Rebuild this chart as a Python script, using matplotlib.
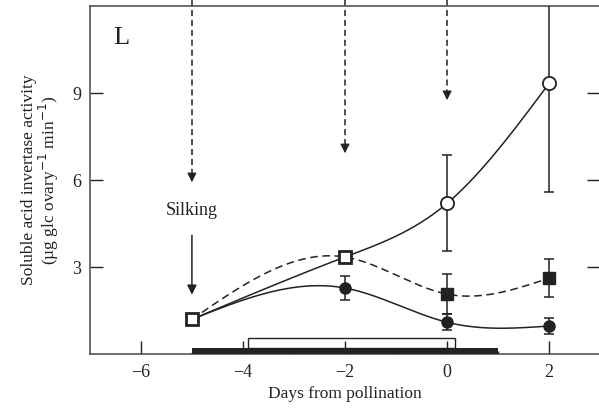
import numpy as np
import matplotlib
matplotlib.use("Agg")
from matplotlib import pyplot as plt

plt.rcParams['font.family'] = ['Liberation Serif', 'DejaVu Serif']

# datos
dias = [-5, -2, 0, 2]
abiertos = [1.2, 3.35, 5.2, 9.34]
abiertos_err = [0.0, 0.0, 1.65, 3.75]
cuadros = [1.2, 3.35, 2.07, 2.62]
cuadros_err = [0.0, 0.0, 0.7, 0.65]
cerrados = [1.2, 2.28, 1.1, 0.97]
cerrados_err = [0.0, 0.42, 0.28, 0.27]

# flechas punteadas (x, punta)
flechas_x = [-5, -2, 0]
flechas_y = [5.93, 6.93, 8.76]

# barras de abajo
barra_negra = [-5, 1]
barra_blanca = [-3.9, 0.15]


def spline_natural(x, y, xs):
    x = np.asarray(x, float)
    y = np.asarray(y, float)
    n = len(x)
    h = np.diff(x)
    A = np.zeros((n, n))
    b = np.zeros(n)
    A[0, 0] = 1
    A[-1, -1] = 1
    for i in range(1, n - 1):
        A[i, i - 1] = h[i - 1]
        A[i, i] = 2 * (h[i - 1] + h[i])
        A[i, i + 1] = h[i]
        b[i] = 6 * ((y[i + 1] - y[i]) / h[i] - (y[i] - y[i - 1]) / h[i - 1])
    M = np.linalg.solve(A, b)
    ys = np.zeros_like(xs)
    for k, t in enumerate(xs):
        i = min(max(np.searchsorted(x, t) - 1, 0), n - 2)
        a = x[i + 1] - t
        c = t - x[i]
        ys[k] = (M[i] * a**3 + M[i + 1] * c**3) / (6 * h[i]) \
            + (y[i] / h[i] - M[i] * h[i] / 6) * a \
            + (y[i + 1] / h[i] - M[i + 1] * h[i] / 6) * c
    return ys


col = '#222222'
fig = plt.figure(figsize=(5.99, 4.08), dpi=100)
ax = fig.add_axes([0.150, 0.132, 0.852, 0.853])

xs = np.linspace(-5, 2, 300)
ax.plot(xs, spline_natural(dias, abiertos, xs), color=col, lw=1.1, zorder=2)
ax.plot(xs, spline_natural(dias, cuadros, xs), color=col, lw=1.1, ls=(0, (5, 3)), zorder=2)
ax.plot(xs, spline_natural(dias, cerrados, xs), color=col, lw=1.1, zorder=2)

# barras de error
ax.errorbar(dias[2:], abiertos[2:], yerr=abiertos_err[2:], fmt='none', ecolor=col,
            elinewidth=1.1, capsize=3.5, capthick=1.1, zorder=3)
ax.errorbar(dias[2:], cuadros[2:], yerr=cuadros_err[2:], fmt='none', ecolor=col,
            elinewidth=1.1, capsize=3.5, capthick=1.1, zorder=3)
ax.errorbar(dias[1:], cerrados[1:], yerr=cerrados_err[1:], fmt='none', ecolor=col,
            elinewidth=1.1, capsize=3.5, capthick=1.1, zorder=3)

# marcadores
ax.plot(dias[1:], cerrados[1:], 'o', color=col, ms=8, zorder=4)
ax.plot(dias[2:], cuadros[2:], 's', color=col, ms=8, zorder=4)
ax.plot(dias[2:], abiertos[2:], 'o', mfc='white', mec=col, mew=1.3, ms=9.5, zorder=5)
ax.plot(dias[:2], cuadros[:2], 's', mfc='white', mec=col, mew=2, ms=8.5, zorder=5)

# flechas punteadas desde arriba
for fx, fy in zip(flechas_x, flechas_y):
    ax.plot([fx, fx], [12.2, fy + 0.25], color=col, lw=1.1, ls=(0, (4, 2.5)),
            clip_on=False, zorder=2)
    ax.annotate('', xy=(fx, fy), xytext=(fx, fy + 0.3),
                arrowprops=dict(arrowstyle='-|>', color=col, lw=0.8,
                                mutation_scale=14, shrinkA=0, shrinkB=0))

# Silking
ax.annotate('', xy=(-5, 2.05), xytext=(-5, 4.1),
            arrowprops=dict(arrowstyle='-|>', color=col, lw=1.1,
                            mutation_scale=14, shrinkA=0, shrinkB=0))
ax.text(-5, 4.95, 'Silking', ha='center', va='center', fontsize=13, color=col)

# barras inferiores
ax.fill_between(barra_negra, 0, 0.22, color=col, lw=0, zorder=3)
ax.add_patch(plt.Rectangle((barra_blanca[0], 0.22), barra_blanca[1] - barra_blanca[0], 0.32,
                           fill=False, ec=col, lw=1.0, zorder=3))

ax.text(-6.55, 10.9, 'L', fontsize=19, color=col, ha='left', va='center')

ax.set_xlim(-7, 3)
ax.set_ylim(0, 12)
ax.set_xticks([-6, -4, -2, 0, 2])
ax.set_xticklabels(['\u22126', '\u22124', '\u22122', '0', '2'])
ax.set_xticks([-5, -3, -1, 1], minor=True)
ax.set_yticks([3, 6, 9])
ax.tick_params(axis='x', which='major', direction='in', length=9.5, width=1,
               color=col, labelsize=13, pad=7, labelcolor=col)
ax.tick_params(axis='x', which='minor', direction='in', length=2.5, width=1, color=col)
ax.tick_params(axis='y', direction='in', length=9.5, width=1, color=col,
               labelsize=13, pad=6, labelcolor=col, right=True)
for s in ax.spines.values():
    s.set_color('#555555')
    s.set_linewidth(1.2)

ax.set_xlabel('Days from pollination', fontsize=12.5, color=col, labelpad=4)
ax.set_ylabel('Soluble acid invertase activity\n'
              '(\u00b5g glc ovary$^{-1}$ min$^{-1}$)', fontsize=12.5, color=col,
              labelpad=8, linespacing=1.0)

fig.savefig('out.png', dpi=100)
